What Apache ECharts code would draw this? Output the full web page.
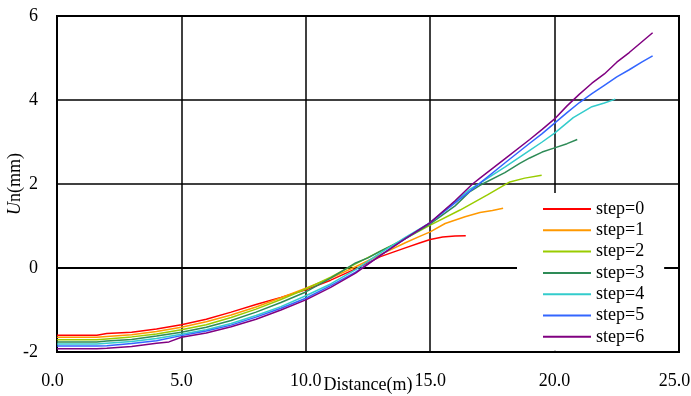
<!DOCTYPE html>
<html>
<head>
<meta charset="utf-8">
<script src="https://cdn.jsdelivr.net/npm/echarts@6/dist/echarts.min.js"></script>
<style>
html,body{margin:0;padding:0;background:#fff;}
#chart{width:691px;height:396px;}
</style>
</head>
<body>
<div id="chart"></div>
<script>
var seriesNames = ['step=0','step=1','step=2','step=3','step=4','step=5','step=6'];
var xTicks = [0, 5, 10, 15, 20, 25];
var yTicks = [-2, 0, 2, 4, 6];

var x0 = [0, 1.6, 2, 3, 4, 5, 6, 7, 8, 9, 10, 11, 12, 13, 14, 14.6, 15, 15.5, 16, 16.43];
var y0 = [-1.60, -1.60, -1.56, -1.53, -1.45, -1.35, -1.22, -1.05, -0.87, -0.70, -0.52, -0.29, -0.02, 0.27, 0.48, 0.60, 0.68, 0.74, 0.76, 0.77];

var x1 = [0, 1.6, 2, 3, 4, 5, 6, 7, 8, 9, 10, 11, 12, 13, 14, 14.6, 15, 15.6, 16.4, 17, 17.5, 17.93];
var y1 = [-1.65, -1.65, -1.63, -1.59, -1.51, -1.41, -1.28, -1.12, -0.93, -0.71, -0.48, -0.24, 0.03, 0.32, 0.60, 0.76, 0.86, 1.06, 1.22, 1.32, 1.37, 1.42];

var x2 = [0, 1.6, 2, 3, 4, 5, 6, 7, 8, 9, 10, 11, 12, 13, 14, 15, 16.2, 17.3, 18.2, 18.8, 19.48];
var y2 = [-1.71, -1.71, -1.69, -1.64, -1.57, -1.47, -1.35, -1.18, -0.98, -0.75, -0.50, -0.22, 0.10, 0.40, 0.70, 1.02, 1.38, 1.74, 2.05, 2.14, 2.21];

var x3 = [0, 1.6, 2, 3, 4, 5, 6, 7, 8, 9, 10, 11, 12, 12.5, 13, 13.8, 15, 16, 16.6, 17, 18, 18.6, 19, 19.5, 20, 20.5, 20.91];
var y3 = [-1.76, -1.76, -1.74, -1.70, -1.62, -1.53, -1.41, -1.25, -1.05, -0.82, -0.57, -0.24, 0.12, 0.24, 0.40, 0.63, 1.05, 1.48, 1.82, 1.97, 2.27, 2.49, 2.62, 2.76, 2.86, 2.96, 3.06];

var x4 = [0, 1.6, 2, 3, 4, 5, 6, 7, 8, 9, 10, 11, 12, 13, 14, 15, 16, 16.6, 17, 18, 19, 19.5, 20, 20.75, 21.5, 22, 22.44];
var y4 = [-1.81, -1.81, -1.79, -1.75, -1.68, -1.58, -1.47, -1.32, -1.13, -0.92, -0.66, -0.38, -0.04, 0.36, 0.73, 1.08, 1.58, 1.88, 2.02, 2.40, 2.80, 3.00, 3.21, 3.58, 3.84, 3.93, 4.02];

var x5 = [0, 1.6, 2, 3, 4, 5, 6, 7, 8, 9, 10, 11, 12, 13, 14, 15, 16, 17, 18, 19, 19.5, 20, 20.5, 21, 21.5, 22, 22.5, 23, 23.5, 23.94];
var y5 = [-1.86, -1.86, -1.85, -1.80, -1.73, -1.61, -1.50, -1.36, -1.17, -0.96, -0.72, -0.42, -0.10, 0.30, 0.70, 1.08, 1.55, 2.02, 2.50, 2.97, 3.20, 3.45, 3.70, 3.94, 4.15, 4.35, 4.55, 4.72, 4.90, 5.05];

var x6 = [0, 1.6, 2, 3, 4, 4.5, 5, 6, 7, 8, 9, 10, 11, 12, 13, 14, 15, 16, 16.7, 17, 18, 19, 19.5, 20, 20.5, 21, 21.5, 22, 22.5, 23, 23.5, 23.94];
var y6 = [-1.92, -1.92, -1.91, -1.87, -1.79, -1.76, -1.65, -1.55, -1.40, -1.22, -1.00, -0.76, -0.46, -0.12, 0.30, 0.70, 1.08, 1.60, 2.00, 2.14, 2.60, 3.06, 3.30, 3.55, 3.86, 4.14, 4.40, 4.62, 4.90, 5.13, 5.38, 5.60];

var colors = ['#ff0000', '#ff9900', '#99cc00', '#2e8b57', '#33cccc', '#3366ff', '#800080'];
var xs = [x0, x1, x2, x3, x4, x5, x6];
var ys = [y0, y1, y2, y3, y4, y5, y6];

function zip(a, b) { return a.map(function (v, i) { return [v, b[i]]; }); }

var FONT = '"Liberation Serif", "Times New Roman", serif';
var series = seriesNames.map(function (n, i) {
  return {
    name: n, type: 'line', data: zip(xs[i], ys[i]),
    symbol: 'none', smooth: false,
    lineStyle: { color: colors[i], width: 1.5 },
    itemStyle: { color: colors[i] }
  };
});

var xMin = xTicks[0], xMax = xTicks[xTicks.length - 1];
var chart = echarts.init(document.getElementById('chart'), null, { renderer: 'canvas' });
chart.setOption({
  animation: false,
  backgroundColor: '#fff',
  grid: { left: 57, right: 12, top: 16, bottom: 44, containLabel: false, outerBoundsMode: 'none',
          show: true, borderColor: '#000', borderWidth: 2, backgroundColor: 'transparent' },
  xAxis: {
    type: 'value', min: xMin, max: xMax, interval: 5,
    name: 'Distance(m)', nameLocation: 'middle', nameGap: 24, nameMoveOverlap: false,
    nameTextStyle: { fontFamily: FONT, fontSize: 18, color: '#000' },
    axisLine: { show: true, lineStyle: { color: '#000', width: 2 } },
    axisTick: { show: false },
    axisLabel: {
      fontFamily: FONT, fontSize: 18, color: '#000', margin: 20,
      formatter: function (v) {
        var s = v.toFixed(1);
        return (v === xMin || v === xMax) ? '{e|' + s + '}' : s;
      },
      rich: { e: { fontFamily: FONT, fontSize: 18, color: '#000', padding: [0, 9, 0, 0] } }
    },
    splitLine: { show: true, lineStyle: { color: '#000', width: 1.5 } }
  },
  yAxis: {
    type: 'value', min: yTicks[0], max: yTicks[yTicks.length - 1], interval: 2,
    name: '{i|U}n(mm)', nameLocation: 'middle', nameGap: 33, nameRotate: 90, nameMoveOverlap: false,
    nameTextStyle: { fontFamily: FONT, fontSize: 18, color: '#000',
      rich: { i: { fontFamily: FONT, fontSize: 18, fontStyle: 'italic', color: '#000' } } },
    axisLine: { show: true, lineStyle: { color: '#000', width: 2 } },
    axisTick: { show: false },
    axisLabel: { fontFamily: FONT, fontSize: 18, color: '#000', margin: 19 },
    splitLine: { show: true, lineStyle: { color: '#000', width: 1.5 } }
  },
  legend: {
    orient: 'vertical', left: 517, top: 193,
    backgroundColor: '#fff', padding: [7, 20, 5, 26],
    icon: 'rect', itemWidth: 48, itemHeight: 2, itemGap: 3.3, itemTextGap: 5,
    textStyle: { fontFamily: FONT, fontSize: 18, color: '#000', lineHeight: 16 },
    data: seriesNames
  },
  series: series
});
</script>
</body>
</html>
